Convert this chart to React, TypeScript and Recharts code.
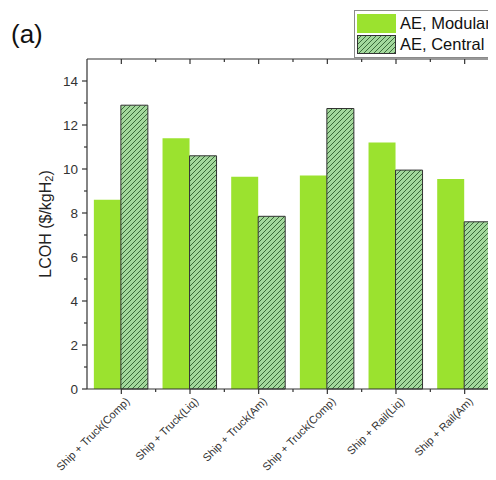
import { Bar, BarChart, Legend, XAxis, YAxis } from "recharts";

const ROUTES = [
  "Ship + Truck(Comp)",
  "Ship + Truck(Liq)",
  "Ship + Truck(Am)",
  "Ship + Truck(Comp)",
  "Ship + Rail(Liq)",
  "Ship + Rail(Am)",
];
const MODULAR = [8.6, 11.4, 9.65, 9.7, 11.2, 9.55];
const CENTRAL = [12.9, 10.6, 7.85, 12.75, 9.95, 7.6];
const Y_TICKS = [0, 1, 2, 3, 4, 5, 6, 7, 8, 9, 10, 11, 12, 13, 14];
const SERIES_NAMES = ["AE, Modular", "AE, Central"];

const FONT = '"Liberation Sans", Arial, sans-serif';
const AXIS = "#333";
const MODULAR_FILL = "#9be22f";
const HATCH_BG = "#a3d89c";
const HATCH_LINE = "#3b6a3a";

const data = ROUTES.map((_, i) => ({ idx: i, modular: MODULAR[i], central: CENTRAL[i] }));

const HatchPattern = ({ id }: { id: string }) => (
  <pattern id={id} patternUnits="userSpaceOnUse" width={5} height={5}>
    <rect width={5} height={5} fill={HATCH_BG} />
    <path d="M0,5 L5,0 M-1,1 L1,-1 M4,6 L6,4" stroke={HATCH_LINE} strokeWidth={1} />
  </pattern>
);

const LeftTick = ({ x, y, payload }: any) => {
  const major = payload.value % 2 === 0;
  return (
    <g>
      <line x1={x - (major ? 5 : 3)} x2={x} y1={y} y2={y} stroke={AXIS} strokeWidth={1.2} />
      {major && (
        <text x={x - 9} y={y} textAnchor="end" dominantBaseline="central" fontSize={13.5} fill="#333" fontFamily={FONT}>
          {payload.value}
        </text>
      )}
    </g>
  );
};

const RightTick = ({ x, y, payload }: any) => {
  const major = payload.value % 2 === 0;
  return <line x1={x - (major ? 6 : 3)} x2={x} y1={y} y2={y} stroke={AXIS} strokeWidth={1.2} />;
};

const BottomTick = ({ x, y, payload }: any) => {
  const half = payload.offset || 34;
  return (
    <g>
      <line x1={x} x2={x} y1={y} y2={y + 5} stroke={AXIS} strokeWidth={1.2} />
      <line x1={x + half} x2={x + half} y1={y} y2={y + 3} stroke={AXIS} strokeWidth={1.2} />
      <text
        transform={`translate(${x + 9},${y + 13}) rotate(-45)`}
        textAnchor="end"
        fontSize={11}
        fill="#333"
        fontFamily={FONT}
      >
        {ROUTES[payload.value]}
      </text>
    </g>
  );
};

const TopTick = ({ x, y, payload }: any) => {
  const half = payload.offset || 34;
  return (
    <g>
      <line x1={x} x2={x} y1={y} y2={y + 5} stroke={AXIS} strokeWidth={1.2} />
      <line x1={x + half} x2={x + half} y1={y} y2={y + 3} stroke={AXIS} strokeWidth={1.2} />
    </g>
  );
};

const YLabel = ({ viewBox }: any) => {
  const cx = viewBox.x + 37;
  const cy = viewBox.y + viewBox.height / 2;
  return (
    <text
      transform={`translate(${cx},${cy}) rotate(-90)`}
      textAnchor="middle"
      dominantBaseline="central"
      fontSize={16}
      fill="#222"
      fontFamily={FONT}
    >
      LCOH ($/kgH
      <tspan dy={4} fontSize={11}>2</tspan>
      <tspan dy={-4}>)</tspan>
    </text>
  );
};

const LegendBox = () => (
  <div
    style={{
      border: "1px solid #8a8a8a",
      background: "#fff",
      padding: "2px 6px 2px 2px",
      fontFamily: FONT,
      fontSize: 16.5,
      color: "#111",
      whiteSpace: "nowrap",
      display: "inline-block",
    }}
  >
    {SERIES_NAMES.map((name, i) => (
      <div key={name} style={{ display: "flex", alignItems: "center", height: 21 }}>
        <svg width={39} height={19} style={{ marginRight: 4 }}>
          <defs>
            <HatchPattern id="legendHatch" />
          </defs>
          {i === 0 ? (
            <rect width={39} height={19} fill={MODULAR_FILL} />
          ) : (
            <rect x={0.5} y={0.5} width={38} height={18} fill="url(#legendHatch)" stroke="#333" />
          )}
        </svg>
        <span>{name}</span>
      </div>
    ))}
  </div>
);

export default function App() {
  return (
    <div style={{ position: "relative", width: 488, height: 472, overflow: "hidden", marginBottom: -8 }}>
      <div style={{ position: "absolute", left: 3, top: 11, fontFamily: FONT, fontSize: 26, color: "#111", zIndex: 2 }}>
        (a)
      </div>
      <BarChart
        width={488}
        height={472}
        data={data}
        margin={{ top: 41, right: -4, bottom: 31, left: 0 }}
        barCategoryGap="10%"
        barGap={0}
      >
        <defs>
          <HatchPattern id="centralHatch" />
        </defs>
        <XAxis
          dataKey="idx"
          type="category"
          height={60}
          interval={0}
          tickSize={0}
          tickMargin={0}
          tickLine={false}
          axisLine={{ stroke: AXIS, strokeWidth: 1.2 }}
          tick={<BottomTick />}
        />
        <XAxis
          xAxisId="top"
          dataKey="idx"
          type="category"
          orientation="top"
          height={10}
          interval={0}
          tickSize={0}
          tickMargin={0}
          tickLine={false}
          axisLine={{ stroke: AXIS, strokeWidth: 1.2 }}
          tick={<TopTick />}
        />
        <YAxis
          width={79}
          domain={[0, 15]}
          ticks={Y_TICKS}
          interval={0}
          tickSize={0}
          tickMargin={0}
          tickLine={false}
          axisLine={{ stroke: AXIS, strokeWidth: 1.2 }}
          tick={<LeftTick />}
          label={<YLabel />}
        />
        <YAxis
          yAxisId="right"
          orientation="right"
          width={1}
          domain={[0, 15]}
          ticks={Y_TICKS}
          interval={0}
          tickSize={0}
          tickMargin={0}
          tickLine={false}
          axisLine={{ stroke: AXIS, strokeWidth: 1.2 }}
          tick={<RightTick />}
        />
        <Legend
          layout="horizontal"
          verticalAlign="middle"
          align="center"
          wrapperStyle={{ top: 2, left: 346, width: "auto" }}
          content={<LegendBox />}
        />
        <Bar dataKey="modular" name={SERIES_NAMES[0]} fill={MODULAR_FILL} isAnimationActive={false} />
        <Bar
          dataKey="central"
          name={SERIES_NAMES[1]}
          fill="url(#centralHatch)"
          stroke="#333"
          strokeWidth={1}
          isAnimationActive={false}
        />
      </BarChart>
    </div>
  );
}
